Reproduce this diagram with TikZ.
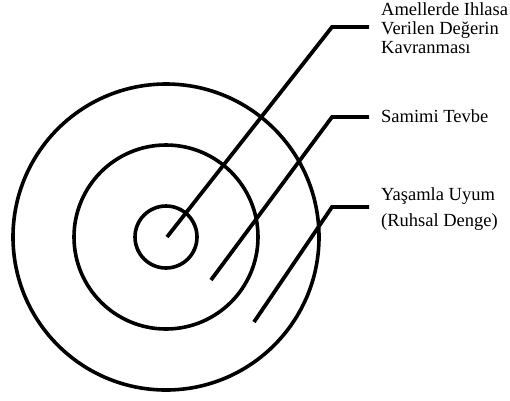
\documentclass[tikz,border=0pt]{standalone}
\usepackage{fontspec}
\setmainfont{Liberation Serif}
\begin{document}
\begin{tikzpicture}[x=1pt,y=-1pt,
  ring/.style={draw=black,line width=3.6pt},
  leader/.style={draw=black,line width=3.8pt,line join=miter},
  lbl/.style={anchor=base west,inner sep=0pt,font=\fontsize{18.5}{19}\selectfont}]
\useasboundingbox (0,0) rectangle (510,400);
\coordinate (c) at (166,237);
\draw[ring] (c) circle[radius=31];
\draw[ring] (c) circle[radius=92];
\draw[ring] (c) circle[radius=153];
% leader points
\coordinate (s1) at (167,237);
\coordinate (e1) at (332,27);
\coordinate (h1) at (369,27);
\coordinate (s2) at (211,280);
\coordinate (e2) at (332,117);
\coordinate (h2) at (369,117);
\coordinate (s3) at (254,322);
\coordinate (e3) at (332,207);
\coordinate (h3) at (369,207);
\draw[leader] (s1) -- (e1) -- (h1);
\draw[leader] (s2) -- (e2) -- (h2);
\draw[leader] (s3) -- (e3) -- (h3);
% labels
\node[lbl] (t1a) at (381,15) {Amellerde Ihlasa};
\node[lbl] (t1b) at (381,34.5) {Verilen Değerin};
\node[lbl] (t1c) at (381,53.5) {Kavranması};
\node[lbl] (t2) at (381,122.5) {Samimi Tevbe};
\node[lbl] (t3a) at (381,200) {Yaşamla Uyum};
\node[lbl] (t3b) at (381,226.5) {(Ruhsal Denge)};
\end{tikzpicture}
\end{document}
